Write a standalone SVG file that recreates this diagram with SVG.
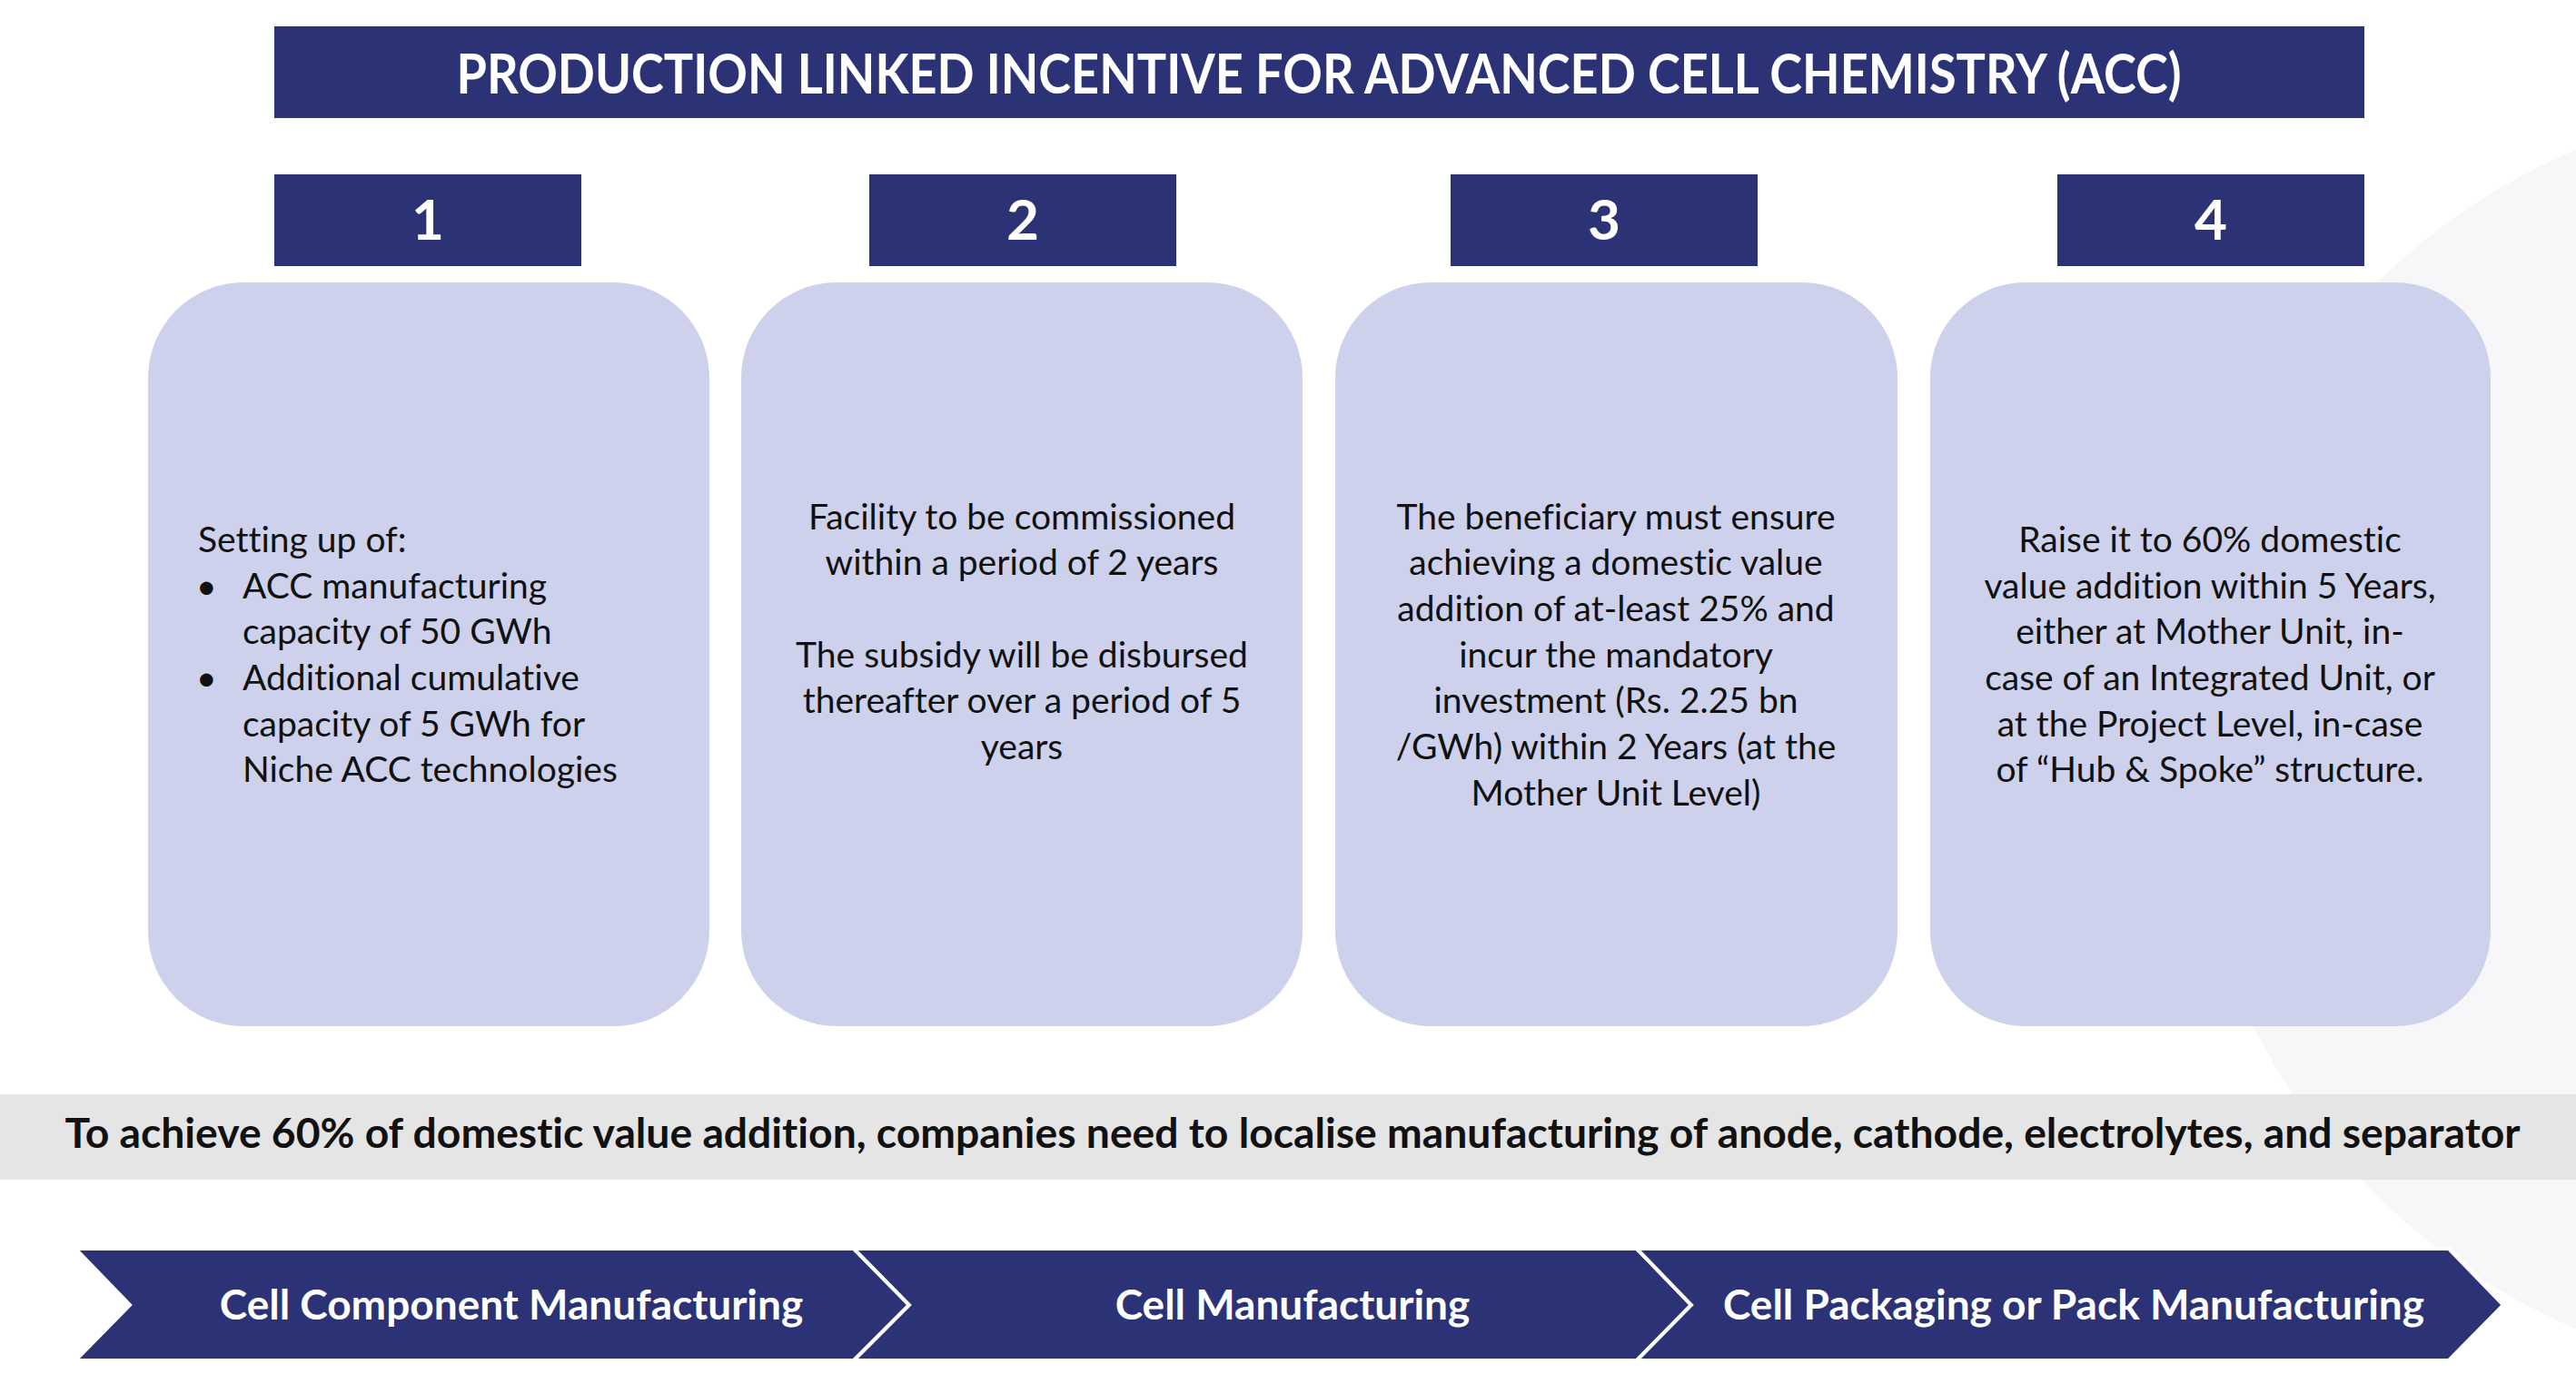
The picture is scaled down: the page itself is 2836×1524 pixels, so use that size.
<svg xmlns="http://www.w3.org/2000/svg" width="2836" height="1524" viewBox="0 0 2836 1524">
<style>
text{font-variant-ligatures:none}
.navy{fill:#2b3376}
.card{fill:#cdd1ec}
.hd{font-family:Lato,"Liberation Sans",sans-serif;font-weight:bold;fill:#ffffff;text-anchor:middle}
.body{font-family:Lato,"Liberation Sans",sans-serif;font-size:39px;fill:#111111}
.c{text-anchor:middle}
.chev{fill:#2b3376;stroke:#ffffff;stroke-width:4;stroke-linejoin:miter}
</style>
<rect width="2836" height="1524" fill="#ffffff"/>
<circle cx="3111" cy="814" r="705" fill="#f7f7f9"/>
<g id="title">
<rect class="navy" x="302" y="29" width="2301" height="101"/>
<text class="hd" x="1452" y="103" font-size="62" textLength="1899" lengthAdjust="spacingAndGlyphs">PRODUCTION LINKED INCENTIVE FOR ADVANCED CELL CHEMISTRY (ACC)</text>
</g>
<g id="num1"><rect class="navy" x="302" y="192" width="338" height="101"/><text class="hd" x="471" y="264" font-size="62">1</text></g>
<g id="num2"><rect class="navy" x="957" y="192" width="338" height="101"/><text class="hd" x="1126" y="264" font-size="62">2</text></g>
<g id="num3"><rect class="navy" x="1597" y="192" width="338" height="101"/><text class="hd" x="1766" y="264" font-size="62">3</text></g>
<g id="num4"><rect class="navy" x="2265" y="192" width="338" height="101"/><text class="hd" x="2434" y="264" font-size="62">4</text></g>
<g id="card1">
<rect class="card" x="163" y="311" width="618" height="819" rx="105" ry="105"/>
<text class="body" x="218" y="608">Setting up of:</text>
<text class="body" x="216" y="659">•</text>
<text class="body" x="267" y="659">ACC manufacturing</text>
<text class="body" x="267" y="709">capacity of 50 GWh</text>
<text class="body" x="216" y="760">•</text>
<text class="body" x="267" y="760">Additional cumulative</text>
<text class="body" x="267" y="811">capacity of 5 GWh for</text>
<text class="body" x="267" y="861">Niche ACC technologies</text>
</g>
<g id="card2">
<rect class="card" x="816" y="311" width="618" height="819" rx="105" ry="105"/>
<text class="body c" x="1125" y="583">Facility to be commissioned</text>
<text class="body c" x="1125" y="633">within a period of 2 years</text>
<text class="body c" x="1125" y="735">The subsidy will be disbursed</text>
<text class="body c" x="1125" y="785">thereafter over a period of 5</text>
<text class="body c" x="1125" y="836">years</text>
</g>
<g id="card3">
<rect class="card" x="1470" y="311" width="619" height="819" rx="105" ry="105"/>
<text class="body c" x="1779" y="583">The beneficiary must ensure</text>
<text class="body c" x="1779" y="633">achieving a domestic value</text>
<text class="body c" x="1779" y="684">addition of at-least 25% and</text>
<text class="body c" x="1779" y="735">incur the mandatory</text>
<text class="body c" x="1779" y="785">investment (Rs. 2.25 bn</text>
<text class="body c" x="1779" y="836">/GWh) within 2 Years (at the</text>
<text class="body c" x="1779" y="887">Mother Unit Level)</text>
</g>
<g id="card4">
<rect class="card" x="2125" y="311" width="617" height="819" rx="105" ry="105"/>
<text class="body c" x="2433" y="608">Raise it to 60% domestic</text>
<text class="body c" x="2433" y="659">value addition within 5 Years,</text>
<text class="body c" x="2433" y="709">either at Mother Unit, in-</text>
<text class="body c" x="2433" y="760">case of an Integrated Unit, or</text>
<text class="body c" x="2433" y="811">at the Project Level, in-case</text>
<text class="body c" x="2433" y="861">of “Hub &amp; Spoke” structure.</text>
</g>
<g id="banner">
<rect x="0" y="1205" width="2836" height="94" fill="#e5e5e5"/>
<text x="1423" y="1264" font-family="Lato, 'Liberation Sans', sans-serif" font-weight="bold" font-size="46" fill="#111111" text-anchor="middle" textLength="2703" lengthAdjust="spacingAndGlyphs">To achieve 60% of domestic value addition, companies need to localise manufacturing of anode, cathode, electrolytes, and separator</text>
</g>
<g id="connectors"></g>
<g id="stage1">
<polygon class="chev" points="83,1375 940,1375 1001,1437 940,1498 83,1498 143,1437"/>
<text class="hd" x="563" y="1453" font-size="46">Cell Component Manufacturing</text>
</g>
<g id="stage2">
<polygon class="chev" points="940,1375 1802,1375 1862,1437 1802,1498 940,1498 1001,1437"/>
<text class="hd" x="1423" y="1453" font-size="46">Cell Manufacturing</text>
</g>
<g id="stage3">
<polygon class="chev" points="1802,1375 2696,1375 2756,1437 2696,1498 1802,1498 1862,1437"/>
<text class="hd" x="2283" y="1453" font-size="46">Cell Packaging or Pack Manufacturing</text>
</g>
</svg>
